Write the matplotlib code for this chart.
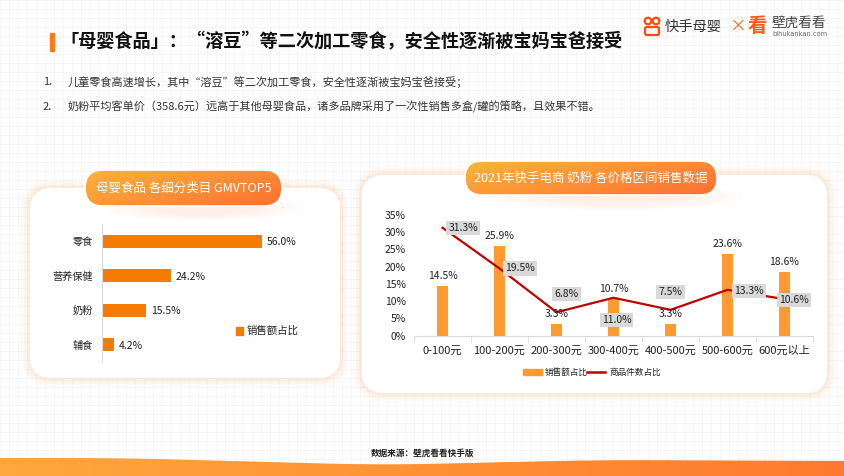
import numpy as np
import matplotlib
matplotlib.use('Agg')
import matplotlib.pyplot as plt
from matplotlib.patches import FancyBboxPatch, Rectangle, Polygon, Circle, Ellipse
from matplotlib.colors import LinearSegmentedColormap

plt.rcParams['font.family'] = ['Noto Sans CJK SC', 'DejaVu Sans']

W, H = 845, 476

# ---- data ----
food_cats = ['零食', '营养保健', '奶粉', '辅食']
food_share = [56.0, 24.2, 15.5, 4.2]

price_bins = ['0-100元', '100-200元', '200-300元', '300-400元',
              '400-500元', '500-600元', '600元以上']
sales_share = [14.5, 25.9, 3.3, 10.7, 3.3, 23.6, 18.6]
item_share = [31.3, 19.5, 6.8, 11.0, 7.5, 13.3, 10.6]

title = '「母婴食品」：“溶豆”等二次加工零食，安全性逐渐被宝妈宝爸接受'
bullets = ['儿童零食高速增长，其中“溶豆”等二次加工零食，安全性逐渐被宝妈宝爸接受；',
           '奶粉平均客单价（358.6元）远高于其他母婴食品，诸多品牌采用了一次性销售多盒/罐的策略，且效果不错。']

ORANGE_L = '#F57C00'
ORANGE_R = '#FF9A30'
RED = '#C00000'

fig = plt.figure(figsize=(W / 100, H / 100), dpi=100)
bg = fig.add_axes([0, 0, 1, 1])
bg.axis('off')
bg.set_autoscale_on(False)
bg.set_xlim(0, W)
bg.set_ylim(H, 0)


def px_axes(x0, y0, x1, y1):
    return fig.add_axes([x0 / W, 1 - y1 / H, (x1 - x0) / W, (y1 - y0) / H])


def gradient_fill(clip, extent, c1, c2, diag=False, z=2):
    cmap = LinearSegmentedColormap.from_list('g', [c1, c2])
    gx, gy = np.meshgrid(np.linspace(0, 1, 200), np.linspace(0, 1, 60))
    grad = (gx + gy * 0.6) / 1.6 if diag else gx
    im = bg.imshow(grad, extent=extent, cmap=cmap, aspect='auto',
                   origin='upper', zorder=z, interpolation='bilinear')
    im.set_clip_path(clip)


# faint grid background
for v in np.arange(0, W, 9):
    bg.plot([v, v], [0, H], color='#F5F5F5', lw=0.6, zorder=0)
for v in np.arange(0, H, 9):
    bg.plot([0, W], [v, v], color='#F5F5F5', lw=0.6, zorder=0)

# title
bg.add_patch(Rectangle((50, 33), 4, 18, color='#FF7A1A', zorder=3))
bg.text(60, 42, title, fontsize=13.1, fontweight='bold', color='#111111',
        va='center', ha='left', zorder=3)

# logo
for cx in (648, 656):
    bg.add_patch(Circle((cx, 21), 3.3, fill=False, ec='#FF4A0A', lw=1.6, zorder=3))
bg.add_patch(FancyBboxPatch((645, 27), 14, 8, boxstyle='round,pad=0,rounding_size=2',
                            fill=False, ec='#FF4A0A', lw=1.6, zorder=3))
bg.text(665, 26.5, '快手母婴', fontsize=10.3, color='#333333', va='center', zorder=3)
bg.text(737, 26.5, '×', fontsize=12, color='#FF6A1A', va='center', ha='center', zorder=3)
bg.text(757, 26, '看', fontsize=14, color='#FF5A1A', fontweight='bold',
        va='center', ha='center', zorder=3)
bg.text(772, 22.5, '壁虎看看', fontsize=9.8, color='#444444', va='center', zorder=3)
bg.text(772, 34, 'bihukankan.com', fontsize=4.8, color='#666666', va='center',
        family='DejaVu Sans', zorder=3)

# bullets
for i, b in enumerate(bullets):
    y = 82 + i * 24.5
    bg.text(43, y, f'{i + 1}.', fontsize=8, color='#333333', va='center', zorder=3)
    bg.text(68, y, b, fontsize=8, color='#333333', va='center', zorder=3)

# panels with soft orange glow
panels = [(30, 188, 310, 190), (362, 175, 465, 218)]
for (x, y, w, h) in panels:
    for pad, a in ((9, 0.08), (6, 0.12), (3, 0.18)):
        bg.add_patch(FancyBboxPatch((x, y), w, h,
                                    boxstyle=f'round,pad={pad},rounding_size={22 + pad}',
                                    fc='#FBC9A4', ec='none', alpha=a, zorder=1))
    bg.add_patch(FancyBboxPatch((x, y), w, h, boxstyle='round,pad=0,rounding_size=22',
                                fc='white', ec='none', zorder=1.5))

# pills
pills = [((85, 170, 197, 36), '母婴食品 各细分类目 GMVTOP5'),
         ((465, 161, 252, 34), '2021年快手电商 奶粉 各价格区间销售数据')]
for (x, y, w, h), txt in pills:
    for k in range(5):
        bg.add_patch(Ellipse((x + w * 0.6, y + h + 2), w * (1.0 - k * 0.12), 26 - k * 3,
                             fc='#FFC2AA', ec='none', alpha=0.05, zorder=1.6))
    p = FancyBboxPatch((x, y), w, h, boxstyle=f'round,pad=0,rounding_size={h / 2}',
                       fc='none', ec='white', lw=1.2, zorder=4)
    bg.add_patch(p)
    clip = FancyBboxPatch((x, y), w, h, boxstyle=f'round,pad=0,rounding_size={h / 2}',
                          fc='none', ec='none', transform=bg.transData)
    bg.add_patch(clip)
    gradient_fill(clip, (x, x + w, y + h, y), '#FDB43A', '#FB6F33', diag=True, z=3)
    bg.text(x + w / 2, y + h / 2, txt, fontsize=9, color='white', ha='center',
            va='center', zorder=5)

# bottom wave
xs = np.linspace(0, W, 300)
top = np.interp(xs, [0, 120, 380, 600, 845], [458, 458, 465, 460, 461])
top = np.convolve(np.pad(top, 20, mode='edge'), np.ones(41) / 41, mode='valid')
wave = Polygon(np.column_stack([np.r_[xs, W, 0], np.r_[top, H, H]]), closed=True,
               fc='none', ec='none')
bg.add_patch(wave)
gradient_fill(wave, (0, W, H, 455), '#FFA83C', '#FF7A2E', z=2)

# footer
bg.text(423, 453, '数据来源：壁虎看看快手版', fontsize=6.2, fontweight='bold',
        color='#222222', ha='center', va='center', zorder=3)

# ---- left chart ----
ax1 = px_axes(102, 224, 330, 362)
ax1.set_zorder(5)
ax1.patch.set_alpha(0)
ypos = np.arange(len(food_cats))
ax1.barh(ypos, food_share, height=0.38, color=ORANGE_L)
ax1.set_xlim(0, 80)
ax1.set_ylim(3.5, -0.5)
ax1.set_yticks(ypos)
ax1.set_yticklabels(food_cats, fontsize=7.3, color='#222222')
ax1.tick_params(axis='y', length=0, pad=6.5)
ax1.set_xticks([])
for s in ('top', 'right', 'bottom'):
    ax1.spines[s].set_visible(False)
ax1.spines['left'].set_color('#D9D9D9')
for i, v in enumerate(food_share):
    ax1.annotate(f'{v:.1f}%', (v, i), xytext=(5, -1), textcoords='offset pixels',
                 va='center', ha='left', fontsize=7.5, color='#222222')
bg.add_patch(Rectangle((236, 327), 7, 8, color=ORANGE_L, zorder=3))
bg.text(247, 331, '销售额占比', fontsize=7.5, color='#222222', va='center', zorder=3)

# ---- right chart ----
ax2 = px_axes(414, 215, 813, 335.7)
ax2.set_zorder(5)
ax2.patch.set_alpha(0)
xpos = np.arange(len(price_bins))
ax2.bar(xpos, sales_share, width=0.2, color=ORANGE_R, zorder=2)
ax2.plot(xpos, item_share, color=RED, lw=1.6, zorder=3)
ax2.set_xlim(-0.5, 6.5)
ax2.set_ylim(0, 35)
ax2.set_yticks(range(0, 40, 5))
ax2.set_yticklabels([f'{t}%' for t in range(0, 40, 5)], fontsize=7.5, color='#222222')
ax2.tick_params(axis='y', length=0, pad=6)
ax2.set_xticks(xpos)
ax2.set_xticklabels(price_bins, fontsize=8, color='#222222')
ax2.set_xticks(np.arange(-0.5, 7, 1), minor=True)
ax2.tick_params(axis='x', which='major', length=0, pad=7)
ax2.tick_params(axis='x', which='minor', length=4, color='#D9D9D9')
for s in ('top', 'right', 'left'):
    ax2.spines[s].set_visible(False)
ax2.spines['bottom'].set_color('#D9D9D9')

for i, v in enumerate(sales_share):
    ax2.annotate(f'{v}%', (i, v), xytext=(0, 10), textcoords='offset pixels',
                 ha='center', va='center', fontsize=7.5, color='#222222', zorder=4)

line_offsets = [(6, 0, 'left'), (6, 0, 'left'), (10, 18, 'center'), (3, -22, 'center'),
                (0, 17.5, 'center'), (7, -1, 'left'), (-5, -1, 'left')]
for i, v in enumerate(item_share):
    dx, dy, ha = line_offsets[i]
    ax2.annotate(f'{v}%', (i, v), xytext=(dx, dy), textcoords='offset pixels',
                 ha=ha, va='center', fontsize=7.5, color='#222222', zorder=5,
                 bbox=dict(boxstyle='square,pad=0.2', fc='#D9D9D9', ec='none'))

bg.add_patch(Rectangle((523, 369), 19, 6, color=ORANGE_R, zorder=3))
bg.text(545, 372, '销售额占比', fontsize=6.2, color='#222222', va='center', zorder=3)
bg.plot([587, 605], [372, 372], color=RED, lw=1.8, zorder=3)
bg.text(610, 372, '商品件数占比', fontsize=6.2, color='#222222', va='center', zorder=3)

bg.set_xlim(0, W)
bg.set_ylim(H, 0)
fig.savefig('out.png', dpi=100)
